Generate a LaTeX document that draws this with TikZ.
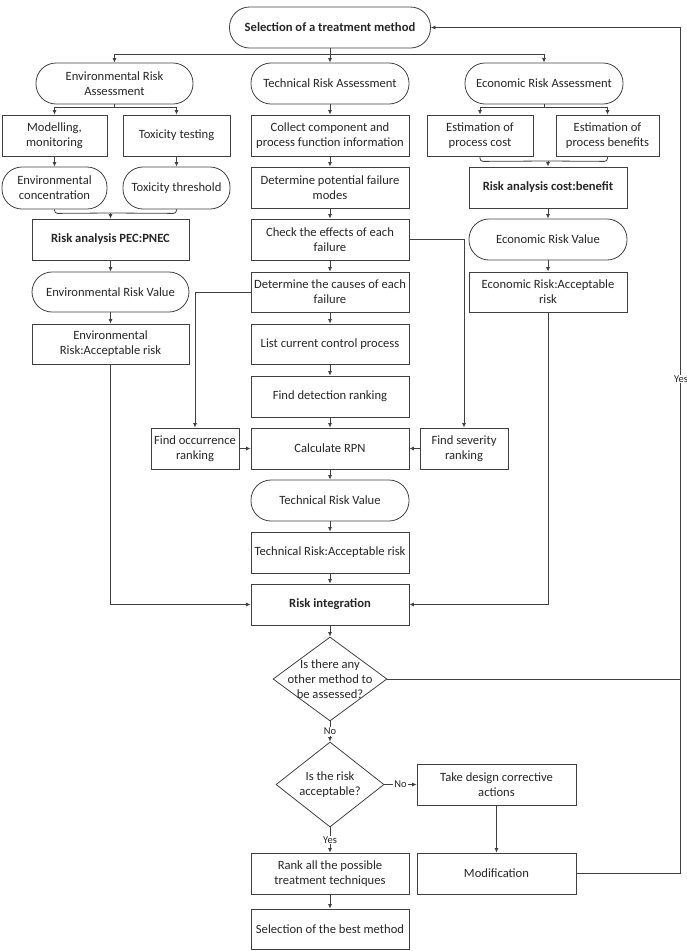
\documentclass[tikz,border=0pt]{standalone}
\usepackage{fontspec}
\setmainfont{Carlito}
\usetikzlibrary{arrows.meta,shapes.geometric}
\begin{document}
\begin{tikzpicture}[x=1pt,y=-1pt,
  every node/.style={font=\fontsize{12.6}{15}\selectfont, text=black!85},
  box/.style={draw=black!75, line width=0.8pt, rectangle, minimum height=41pt, inner sep=1pt, align=center},
  term/.style={box, rounded corners=20pt},
  bold/.style={font=\fontsize{12.6}{15}\selectfont\bfseries},
  ln/.style={draw=black!75, line width=0.8pt},
  arr/.style={ln, -{Latex[length=4.5pt,width=4pt]}},
  lab/.style={fill=white, inner sep=1pt, font=\fontsize{10.5}{12}\selectfont},
  dec/.style={draw=black!75, line width=0.8pt, diamond, inner sep=0pt}
]
\useasboundingbox (0,0) rectangle (687,951);

% top
\node[term, bold, minimum width=201pt] (top) at (330,27.5) {Selection of a treatment method};
\node[term, minimum width=157pt] (era) at (114.5,83.5) {Environmental Risk\\Assessment};
\node[term, minimum width=158pt] (tra) at (330,83.5) {Technical Risk Assessment};
\node[term, minimum width=158pt] (eca) at (544,83.5) {Economic Risk Assessment};

% environmental column
\node[box, minimum width=105pt] (mod) at (54.5,135.5) {Modelling,\\monitoring};
\node[box, minimum width=107pt] (tox) at (176.5,135.5) {Toxicity testing};
\node[term, minimum width=105pt, minimum height=42pt] (envc) at (54.5,188) {Environmental\\concentration};
\node[term, minimum width=107pt, minimum height=42pt] (toxt) at (176.5,188) {Toxicity threshold};
\node[box, bold, minimum width=157pt] (pec) at (110.5,239.5) {Risk analysis PEC:PNEC};
\node[term, minimum width=157pt, minimum height=40pt] (erv) at (110.5,292) {Environmental Risk Value};
\node[box, minimum width=157pt, minimum height=40pt] (eacc) at (110.5,344) {Environmental\\Risk:Acceptable risk};

% technical column
\node[box, minimum width=158pt] (coll) at (330,135.5) {Collect component and\\process function information};
\node[box, minimum width=158pt] (pot) at (330,187.5) {Determine potential failure\\modes};
\node[box, minimum width=158pt] (eff) at (330,239.5) {Check the effects of each\\failure};
\node[box, minimum width=158pt, minimum height=40pt] (cau) at (330,292) {Determine the causes of each\\failure};
\node[box, minimum width=158pt, minimum height=40pt] (lst) at (330,344) {List current control process};
\node[box, minimum width=158pt] (det) at (330,396.5) {Find detection ranking};
\node[box, minimum width=158pt] (rpn) at (330,448.5) {Calculate RPN};
\node[box, minimum width=88pt] (occ) at (195,448.5) {Find occurrence\\ranking};
\node[box, minimum width=88pt] (sev) at (464,448.5) {Find severity\\ranking};
\node[term, minimum width=158pt] (trv) at (330,500.5) {Technical Risk Value};
\node[box, minimum width=158pt] (tacc) at (330,552.5) {Technical Risk:Acceptable risk};
\node[box, bold, minimum width=158pt] (rint) at (330,604.5) {Risk integration};

% decisions
\node[dec, minimum width=114pt, minimum height=84pt] (d1) at (330,679) {};
\node[align=center] (d1t) at (d1) {Is there any\\other method to\\be assessed?};
\node[dec, minimum width=108pt, minimum height=85pt] (d2) at (330,784.5) {};
\node[align=center] (d2t) at (d2) {Is the risk\\acceptable?};
\node[box, minimum width=159pt] (take) at (496.5,784.5) {Take design corrective\\actions};
\node[box, minimum width=159pt] (modif) at (496.5,873.5) {Modification};
\node[box, minimum width=158pt] (rank) at (330,873.5) {Rank all the possible\\treatment techniques};
\node[box, minimum width=158pt, minimum height=40pt] (best) at (330,929) {Selection of the best method};

% economic column
\node[box, minimum width=106pt] (ecost) at (480,135.5) {Estimation of\\process cost};
\node[box, minimum width=103pt] (eben) at (607.5,135.5) {Estimation of\\process benefits};
\node[box, bold, minimum width=158pt] (rcb) at (548,187.5) {Risk analysis cost:benefit};
\node[term, minimum width=158pt] (erv2) at (548,239.5) {Economic Risk Value};
\node[box, minimum width=158pt, minimum height=40pt] (eacc2) at (548,292) {Economic Risk:Acceptable\\risk};

% top branches
\coordinate (tb) at (330,54);
\draw[ln] (top.south) -- (tb);
\draw[arr] (tb) -| (era.north);
\draw[arr] (tb) -- (tra.north);
\draw[arr] (tb) -| (eca.north);

% environmental connectors
\coordinate (eb) at (114.5,107);
\draw[ln] (era.south) -- (eb);
\draw[arr] (eb) -| (mod.north);
\draw[arr] (eb) -| (tox.north);
\draw[arr] (mod) -- (envc);
\draw[arr] (tox) -- (toxt);
\coordinate (pm) at (110.5,213);
\draw[ln, rounded corners=3pt] (envc.south) -- ++(0,4) -- (pm);
\draw[ln, rounded corners=3pt] (toxt.south) -- ++(0,4) -- (pm);
\draw[arr] (pm) -- (pec.north);
\draw[arr] (pec) -- (erv);
\draw[arr] (erv) -- (eacc);
\draw[arr] (eacc.south) |- (rint.west);

% technical connectors
\draw[arr] (tra) -- (coll);
\draw[arr] (coll) -- (pot);
\draw[arr] (pot) -- (eff);
\draw[arr] (eff) -- (cau);
\draw[arr] (cau) -- (lst);
\draw[arr] (lst) -- (det);
\draw[arr] (det) -- (rpn);
\draw[arr] (rpn) -- (trv);
\draw[arr] (trv) -- (tacc);
\draw[arr] (tacc) -- (rint);
\draw[arr] (rint.south) -- (d1.north);
\draw[arr] (eff.east) -| (sev.north);
\draw[arr] (cau.west) -| (occ.north);
\draw[arr] (occ) -- (rpn);
\draw[arr] (sev) -- (rpn);

% economic connectors
\coordinate (ceb) at (544,107);
\draw[ln] (eca.south) -- (ceb);
\draw[arr] (ceb) -| (ecost.north);
\draw[arr] (ceb) -| (eben.north);
\coordinate (cm) at (548,161);
\draw[ln, rounded corners=3pt] (ecost.south) -- ++(0,5) -- (cm);
\draw[ln, rounded corners=3pt] (eben.south) -- ++(0,5) -- (cm);
\draw[arr] (cm) -- (rcb.north);
\draw[arr] (rcb) -- (erv2);
\draw[arr] (erv2) -- (eacc2);
\draw[arr] (eacc2.south) |- (rint.east);

% decisions connectors
\draw[arr] (d1.south) -- node[lab] (no1) {No} (d2.north);
\draw[arr] (d2.east) -- node[lab] (no2) {No} (take.west);
\draw[arr] (d2.south) -- node[lab] (yes2) {Yes} (rank.north);
\draw[arr] (rank) -- (best);
\draw[arr] (take) -- (modif);

% feedback loop
\coordinate (rc) at (680,873.5);
\coordinate (rt) at (680,27.5);
\draw[ln] (modif.east) -- (rc);
\draw[arr] (rc) -- (rt) -- (top.east);
\draw[ln] (d1.east) -- (d1.east -| rc);
\node[lab] (yes1) at (681,379) {Yes};
\end{tikzpicture}
\end{document}
